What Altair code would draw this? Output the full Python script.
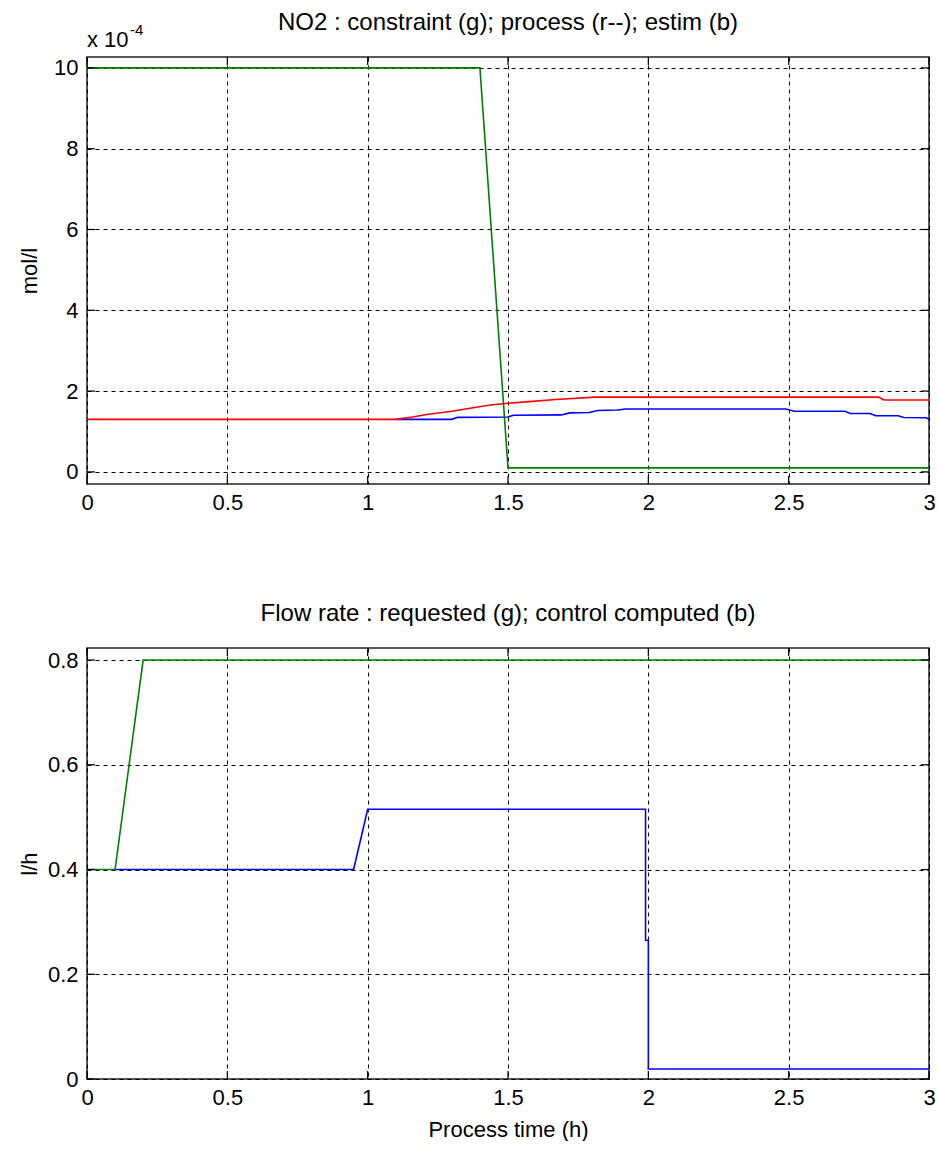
import altair as alt
import pandas as pd

FONT = "Liberation Sans"

# ---------------- data ----------------
x_ticks = [0, 0.5, 1, 1.5, 2, 2.5, 3]
no2_y_ticks = [0, 2, 4, 6, 8, 10]
flow_y_ticks = [0, 0.2, 0.4, 0.6, 0.8]

# NO2 (x 1e-4 mol/l)
no2_constraint_t = [0, 1.40, 1.50, 3.0]
no2_constraint_v = [10, 10, 0.1, 0.1]

no2_process_t = [0, 1.10, 1.16, 1.21, 1.30, 1.37, 1.43, 1.50, 1.575, 1.67, 1.81, 2.82, 2.84, 3.0]
no2_process_v = [1.30, 1.30, 1.36, 1.42, 1.50, 1.58, 1.65, 1.70, 1.74, 1.79, 1.85, 1.85, 1.78, 1.78]

no2_estim_t = [1.10, 1.30, 1.32, 1.50, 1.52, 1.69, 1.72, 1.79, 1.82, 1.89, 1.92, 2.49, 2.52,
               2.70, 2.72, 2.79, 2.81, 2.89, 2.91, 2.99, 3.0]
no2_estim_v = [1.30, 1.30, 1.35, 1.36, 1.40, 1.41, 1.46, 1.47, 1.52, 1.53, 1.555, 1.555, 1.50,
               1.50, 1.445, 1.445, 1.39, 1.39, 1.345, 1.34, 1.30]

# Flow rate (l/h)
flow_requested_t = [0, 0.10, 0.20, 3.0]
flow_requested_v = [0.4, 0.4, 0.8, 0.8]

flow_control_t = [0.10, 0.95, 1.00, 1.99, 1.99, 2.00, 2.00, 3.0]
flow_control_v = [0.4, 0.4, 0.515, 0.515, 0.265, 0.265, 0.019, 0.019]


def frame(ts, vs):
    return pd.DataFrame({"t": ts, "v": vs, "i": list(range(len(ts)))})


W = 842
H1 = 427
H2 = 431
TICK = 8
GREEN = "#008000"
RED = "#ff0000"
BLUE = "#0000ff"


def panel(series, y_domain, y_ticks, y_title, H, x_title, title, extra=None):
    xsc = alt.Scale(domain=[0, 3], nice=False, zero=False)
    ysc = alt.Scale(domain=y_domain, nice=False, zero=False)
    x_axis = alt.Axis(values=x_ticks, format="~r", grid=True, gridDash=[4, 4],
                      gridColor="black", gridOpacity=1, gridWidth=1, tickSize=0,
                      domain=False, labelPadding=8, labelFontSize=22, labelFont=FONT,
                      labelColor="black", labelFlush=False,
                      title=x_title, titleFont=FONT, titleFontSize=22,
                      titleFontWeight="normal", titleColor="black", titleY=50,
                      titleBaseline="middle")
    y_axis = alt.Axis(values=y_ticks, format="~r", grid=True, gridDash=[4, 4],
                      gridColor="black", gridOpacity=1, gridWidth=1, tickSize=0,
                      domain=False, labelPadding=9, labelFontSize=22, labelFont=FONT,
                      labelColor="black", labelFlush=False,
                      title=y_title, titleFont=FONT, titleFontSize=22,
                      titleFontWeight="normal", titleColor="black", titleX=-58,
                      titleY=H / 2, titleBaseline="middle", titleAngle=270)

    X = lambda f: alt.X(f, scale=xsc, axis=x_axis)
    Y = lambda f: alt.Y(f, scale=ysc, axis=y_axis)

    layers = []
    for (ts, vs, color) in series:
        d = frame(ts, vs)
        layers.append(alt.Chart(d).mark_line(color=color, strokeWidth=1.6, clip=True)
                      .encode(x=X("t:Q"), y=Y("v:Q"), order=alt.Order("i:Q")))

    xt = pd.DataFrame({"t": x_ticks})
    yt = pd.DataFrame({"v": y_ticks})
    tick_style = dict(color="black", strokeWidth=1.2)
    layers.append(alt.Chart(xt).mark_rule(**tick_style).encode(
        x=X("t:Q"), y=alt.value(0), y2=alt.value(TICK)))
    layers.append(alt.Chart(xt).mark_rule(**tick_style).encode(
        x=X("t:Q"), y=alt.value(H - TICK), y2=alt.value(H)))
    layers.append(alt.Chart(yt).mark_rule(**tick_style).encode(
        y=Y("v:Q"), x=alt.value(0), x2=alt.value(TICK)))
    layers.append(alt.Chart(yt).mark_rule(**tick_style).encode(
        y=Y("v:Q"), x=alt.value(W - TICK), x2=alt.value(W)))

    layers.append(alt.Chart(pd.DataFrame({"s": [title]})).mark_text(
        font=FONT, fontSize=24, color="black", align="center", baseline="alphabetic"
    ).encode(text="s:N", x=alt.value(W / 2), y=alt.value(-27)))

    if extra is not None:
        layers.extend(extra)

    return alt.layer(*layers).properties(width=W, height=H)


exp_layers = [
    alt.Chart(pd.DataFrame({"s": ["x 10"]})).mark_text(
        font=FONT, fontSize=22, color="black", align="left", baseline="alphabetic"
    ).encode(text="s:N", x=alt.value(0), y=alt.value(-10)),
    alt.Chart(pd.DataFrame({"s": ["-4"]})).mark_text(
        font=FONT, fontSize=15, color="black", align="left", baseline="alphabetic"
    ).encode(text="s:N", x=alt.value(43), y=alt.value(-22)),
]

top = panel(
    [(no2_estim_t, no2_estim_v, BLUE),
     (no2_process_t, no2_process_v, RED),
     (no2_constraint_t, no2_constraint_v, GREEN)],
    [-0.3, 10.27], no2_y_ticks, "mol/l", H1, "",
    "NO2 : constraint (g); process (r--); estim (b)", extra=exp_layers)

bottom = panel(
    [(flow_control_t, flow_control_v, BLUE),
     (flow_requested_t, flow_requested_v, GREEN)],
    [0, 0.823], flow_y_ticks, "l/h", H2, "Process time (h)",
    "Flow rate : requested (g); control computed (b)")

chart = alt.vconcat(top, bottom, spacing=164, bounds="flush").properties(
    padding={"left": 17, "top": 10, "right": 0, "bottom": 0},
    background="white",
).configure_view(stroke="#222", strokeWidth=1.5)

chart.save("out.html", embed_options={"renderer": "svg", "actions": False})
